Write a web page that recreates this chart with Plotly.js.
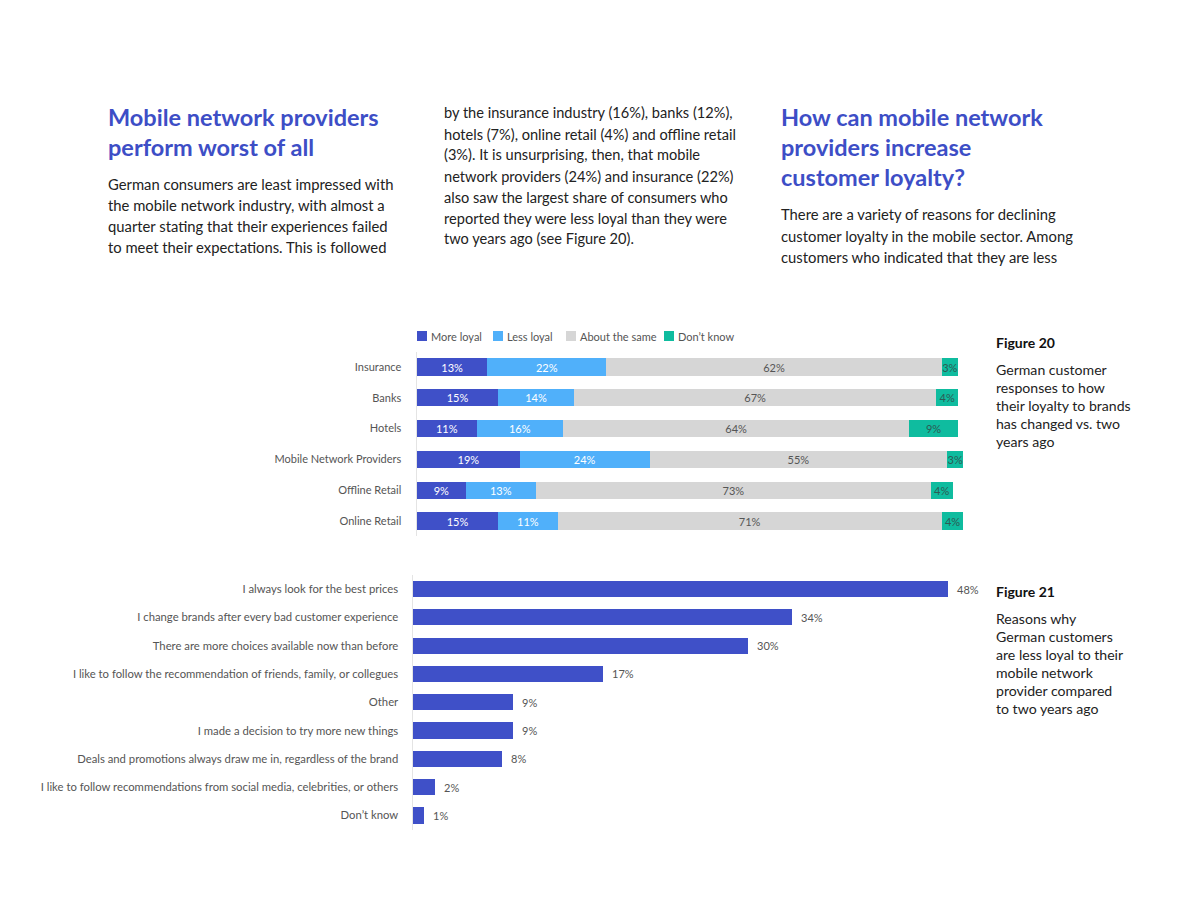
<!DOCTYPE html>
<html>
<head>
<meta charset="utf-8">
<script src="https://cdn.plot.ly/plotly-3.0.1.min.js"></script>
<style>html,body{margin:0;padding:0;background:#fff;}#chart{width:1184px;height:915px;}</style>
</head>
<body>
<div id="chart"></div>
<script>
// ---- Figure 20 data ----
const industries = ["Insurance", "Banks", "Hotels", "Mobile Network Providers", "Offline Retail", "Online Retail"];
const moreLoyal = [13, 15, 11, 19, 9, 15];
const lessLoyal = [22, 14, 16, 24, 13, 11];
const aboutSame = [62, 67, 64, 55, 73, 71];
const dontKnow = [3, 4, 9, 3, 4, 4];
const seriesNames = ["More loyal", "Less loyal", "About the same", "Don’t know"];

// ---- Figure 21 data ----
const reasons = [
  "I always look for the best prices",
  "I change brands after every bad customer experience",
  "There are more choices available now than before",
  "I like to follow the recommendation of friends, family, or collegues",
  "Other",
  "I made a decision to try more new things",
  "Deals and promotions always draw me in, regardless of the brand",
  "I like to follow recommendations from social media, celebrities, or others",
  "Don’t know"
];
const reasonValues = [48, 34, 30, 17, 9, 9, 8, 2, 1];

// ---- Page text ----
const col1Heading = ["Mobile network providers", "perform worst of all"];
const col1Body = ["German consumers are least impressed with", "the mobile network industry, with almost a", "quarter stating that their experiences failed", "to meet their expectations. This is followed"];
const col2Body = ["by the insurance industry (16%), banks (12%),", "hotels (7%), online retail (4%) and offline retail", "(3%). It is unsurprising, then, that mobile", "network providers (24%) and insurance (22%)", "also saw the largest share of consumers who", "reported they were less loyal than they were", "two years ago (see Figure 20)."];
const col3Heading = ["How can mobile network", "providers increase", "customer loyalty?"];
const col3Body = ["There are a variety of reasons for declining", "customer loyalty in the mobile sector. Among", "customers who indicated that they are less"];
const fig20Title = "Figure 20";
const fig20Caption = ["German customer", "responses to how", "their loyalty to brands", "has changed vs. two", "years ago"];
const fig21Title = "Figure 21";
const fig21Caption = ["Reasons why", "German customers", "are less loyal to their", "mobile network", "provider compared", "to two years ago"];

const W = 1184, H = 915;
const FONT = "Lato, 'Open Sans', sans-serif";
const BLUE = "#3d4ec6";
const px = x => x / W;
const py = y => 1 - y / H;

const colors = ["#3f50c8", "#50b0fa", "#d6d6d6", "#0fbc9f"];
const textColors = ["#ffffff", "#ffffff", "#555555", "#2d5a54"];
const stackData = [moreLoyal, lessLoyal, aboutSame, dontKnow];
const legendItemX = [417, 493, 566, 664]; // layout positions of legend entries (px)

const traces = stackData.map((vals, i) => ({
  type: "bar", orientation: "h",
  x: vals, y: industries, name: seriesNames[i],
  xaxis: "x", yaxis: "y",
  marker: {color: colors[i]},
  width: 0.56,
  text: vals.map(v => v + "%"),
  textposition: "inside", insidetextanchor: "middle",
  textangle: 0,
  constraintext: "none",
  textfont: {family: FONT, size: 11, color: textColors[i]},
  cliponaxis: false,
  showlegend: false,
  hoverinfo: "skip"
}));

traces.push({
  type: "bar", orientation: "h",
  x: reasonValues, y: reasons, name: "Reasons",
  xaxis: "x2", yaxis: "y2",
  marker: {color: "#3f50c8"},
  width: 0.57,
  showlegend: false,
  hoverinfo: "skip"
});

const annotations = [];
const shapes = [];
function addLines(lines, x, y0, step, size, color, weight) {
  lines.forEach((t, i) => annotations.push({
    xref: "paper", yref: "paper", x: px(x), y: py(y0 + i * step),
    xanchor: "left", yanchor: "middle", showarrow: false, text: t,
    font: {family: FONT, size: size, color: color, weight: weight || 400}
  }));
}
addLines(col1Heading, 106, 117, 30, 23.5, BLUE, 700);
addLines(col1Body, 106, 184, 21, 14.8, "#222222");
addLines(col2Body, 442, 113, 21, 14.6, "#222222");
addLines(col3Heading, 779, 117, 30, 23.5, BLUE, 700);
addLines(col3Body, 779, 214, 21.5, 14.8, "#222222");
addLines([fig20Title], 994, 342, 18, 14, "#111111", 700);
addLines(fig20Caption, 994, 369, 18, 14.1, "#222222");
addLines([fig21Title], 994, 591, 18, 14, "#111111", 700);
addLines(fig21Caption, 994, 618, 18, 14.1, "#222222");

// value labels for Figure 21
reasonValues.forEach((v, i) => annotations.push({
  xref: "x2", yref: "y2", x: v, y: reasons[i], xanchor: "left", yanchor: "middle",
  xshift: 7, showarrow: false, text: v + "%",
  font: {family: FONT, size: 11, color: "#555555"}
}));

// legend for Figure 20 (compact, like the reference)
const ly = 336;
seriesNames.forEach((name, i) => {
  const lx = legendItemX[i];
  shapes.push({type: "rect", xref: "paper", yref: "paper",
    x0: px(lx), x1: px(lx + 10), y0: py(ly + 5), y1: py(ly - 5),
    fillcolor: colors[i], line: {width: 0}});
  annotations.push({xref: "paper", yref: "paper", x: px(lx + 12), y: py(ly),
    xanchor: "left", yanchor: "middle", showarrow: false, text: name,
    font: {family: FONT, size: 11, color: "#555555"}});
});

const layout = {
  width: W, height: H,
  margin: {l: 0, r: 0, t: 0, b: 0},
  paper_bgcolor: "#ffffff", plot_bgcolor: "rgba(0,0,0,0)",
  barmode: "stack",
  font: {family: FONT, color: "#555555"},
  showlegend: false,
  xaxis: {domain: [px(417), px(417 + 5.41 * 101)], range: [0, 101], visible: false, fixedrange: true},
  yaxis: {domain: [py(536.4), py(351.6)], range: [5.5, -0.5], type: "category",
          showline: true, linecolor: "#e4e4e4", linewidth: 1.5, showgrid: false, zeroline: false,
          ticks: "", ticklabelstandoff: 12,
          tickfont: {family: FONT, size: 11, color: "#555555"}},
  xaxis2: {domain: [px(413), px(413 + 11.15 * 50)], range: [0, 50], visible: false, anchor: "y2"},
  yaxis2: {domain: [py(829.6), py(574.9)], range: [8.5, -0.5], type: "category", anchor: "x2",
           showline: true, linecolor: "#e4e4e4", linewidth: 1.5, showgrid: false, zeroline: false,
           ticks: "", ticklabelstandoff: 11,
           tickfont: {family: FONT, size: 11.3, color: "#555555"}},
  shapes: shapes,
  annotations: annotations
};

Plotly.newPlot("chart", traces, layout, {displayModeBar: false, staticPlot: true});
</script>
</body>
</html>
